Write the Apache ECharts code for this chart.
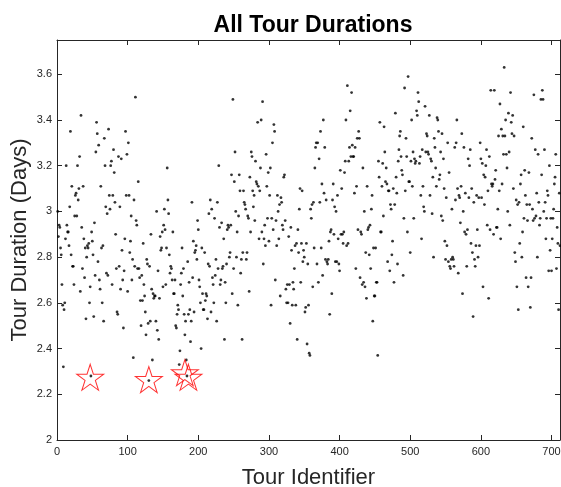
<!DOCTYPE html>
<html>
<head>
<meta charset="utf-8">
<title>All Tour Durations</title>
<script src="https://cdn.jsdelivr.net/npm/echarts@6/dist/echarts.min.js"></script>
<style>
  html, body { margin: 0; padding: 0; background: #fff; }
  #chart { width: 561px; height: 487px; }
</style>
</head>
<body>
<div id="chart"></div>
<script>
// duration of every tour (days), tour id = position in the list (starting at 1)
const tourDurations = [
  3.00, 2.89, 2.94, 2.93, 2.84, 2.81, 2.68, 2.59, 2.32, 2.57, 2.60, 2.88,
  3.20, 2.94, 2.91, 2.91, 2.85, 3.02, 3.35, 2.81, 3.11, 2.76, 2.76, 2.68, 2.98, 3.07, 3.08, 2.98, 3.20, 3.05, 3.10, 3.24, 2.65, 3.42,
  2.93, 2.75, 3.11, 2.88, 2.71, 2.84, 2.53, 2.80, 2.85, 2.84, 2.86, 2.60, 2.67, 2.28, 2.91, 2.87, 2.81, 2.54, 2.95, 2.72,
  3.26, 3.39, 3.34, 2.78, 3.29, 2.70, 2.66, 3.11, 2.84, 2.60, 2.85, 2.52, 3.32,
  3.20, 3.02, 2.73, 2.99, 2.72, 3.36, 3.07, 3.01, 3.20, 3.22, 2.68, 3.07, 3.27, 3.17, 3.04, 2.90, 2.75, 2.56, 2.55, 3.24, 2.76, 3.02, 2.66,

  3.23, 2.83, 2.70, 2.49, 2.74, 2.88, 3.35, 3.07, 3.25, 2.65,
  3.30, 3.07, 2.82, 2.87, 2.98, 2.70, 2.79, 2.36, 3.05, 2.76,
  3.50, 2.96, 2.94, 2.75, 3.13, 2.75, 2.71, 2.61, 2.50, 2.72,
  2.61, 2.86, 2.68, 2.63, 2.56, 2.46, 2.79, 2.77, 2.51, 2.26,
  2.76, 2.52, 2.90, 2.66, 2.35, 2.64, 2.62, 2.63, 2.63, 2.52,
  3.00, 2.48, 2.74, 2.44, 2.62, 2.89, 2.83, 2.84, 2.91, 2.67,
  2.94, 3.01, 2.92, 2.68, 2.84, 3.19, 3.05, 2.99, 2.81, 2.73,
  2.76, 2.75, 2.70, 2.91, 2.64, 2.64, 2.70, 2.50, 2.49, 2.55,
  2.59, 2.57, 2.33, 2.39, 2.68, 2.73, 2.84, 2.63, 2.75, 2.55,

  2.46, 2.52, 2.35, 2.28, 2.78, 2.55, 2.69, 2.57, 2.43, 2.52,
  3.04, 2.71, 2.87, 2.56, 2.82, 2.83, 2.85, 2.79, 2.96, 2.92,
  2.70, 2.67, 2.60, 2.40, 2.84, 2.64, 2.57, 2.57, 2.82, 2.61,
  2.64, 2.63, 2.53, 2.77, 2.99, 2.76, 3.05, 2.56, 3.01, 2.71,
  2.68, 2.60, 2.97, 2.72, 2.79, 2.52, 3.04, 2.75, 3.20, 2.93,
  2.68, 2.70, 2.95, 2.75, 2.76, 2.88, 2.44, 2.69, 2.60, 2.77,
  2.92, 2.94, 2.93, 2.80, 2.82, 2.94, 3.16, 2.64, 3.49, 2.75,
  3.13, 3.26, 3.00, 2.80, 2.91, 2.59, 2.98, 3.16, 3.09, 2.73,
  2.79, 2.44, 2.82, 3.09, 3.04, 3.03, 3.01,

  2.79, 2.82, 2.98, 2.97, 2.65, 3.15, 2.91, 3.26, 3.24, 3.09,
  3.02, 3.07, 2.96, 3.22, 3.13, 3.12, 3.39, 3.11, 2.88, 3.09,
  3.19, 3.40, 2.91, 3.48, 2.77, 2.88, 2.94, 2.85, 3.25, 3.11,
  2.97, 3.17, 2.87, 3.07, 3.19, 2.59, 2.97, 3.30, 2.92, 3.38,
  3.35, 2.70, 2.96, 2.85, 3.07, 3.00, 2.88, 3.03, 2.63, 3.06,
  3.04, 2.94, 2.92, 3.15, 3.16, 2.96, 2.66, 2.60, 2.68, 2.60,
  2.89, 2.68, 2.51, 2.93, 2.83, 2.59, 2.69, 2.66, 2.75, 2.85,
  2.59, 2.86, 2.44, 2.92, 2.82, 3.01, 3.10, 2.69, 2.86, 3.09,
  2.78, 2.83, 2.80, 2.56, 2.58, 2.86, 2.42, 2.77, 2.59,

  2.38, 2.37, 3.01, 2.97, 3.03, 2.67, 3.04, 2.84, 3.19, 3.28,
  3.30, 2.77, 3.30, 2.69, 3.23, 3.04, 3.35, 2.84, 3.12, 2.72,
  3.40, 3.08, 3.28, 2.79, 3.05, 2.78, 2.77, 2.79, 2.87, 2.55,
  2.91, 2.92, 2.64, 3.05, 3.12, 2.90, 3.02, 2.78, 3.00, 2.78,
  3.07, 2.88, 2.77, 2.74, 3.18, 2.90, 3.10, 2.90, 2.86, 2.91,
  3.17, 3.22, 3.40, 2.85, 3.55, 2.86, 3.22, 3.28, 3.44, 3.24,
  3.52, 3.29, 3.24, 3.24, 3.08, 3.28, 2.75, 3.11, 3.32, 2.92,
  3.35, 3.32, 2.71, 2.91, 2.90, 2.68, 3.19, 2.69, 3.00, 2.67,
  2.82, 2.62, 3.11, 2.92, 2.93, 2.81, 2.94, 2.75, 3.01,

  3.07, 2.52, 2.84, 2.63, 2.63, 2.84, 2.69, 2.69, 2.37, 3.22,
  3.15, 3.39, 2.91, 2.91, 3.11, 3.21, 2.98, 3.37, 3.26, 3.13,
  3.19, 3.12, 2.78, 3.09, 3.09, 2.74, 3.03, 3.01, 2.81, 2.87,
  3.10, 2.69, 3.03, 3.43, 3.15, 3.08, 2.77, 3.22, 3.27, 3.33,
  3.35, 3.24, 3.18, 3.16, 2.72, 2.97, 3.54, 3.09, 3.32, 3.24,
  2.91, 3.59, 3.13, 3.13, 2.82, 3.22, 3.40, 3.11, 3.26, 2.97,
  3.23, 3.21, 3.22, 3.44, 3.42, 3.52, 3.48, 3.21, 3.24, 3.07,
  2.88, 3.27, 3.11, 3.02, 3.00, 3.46, 3.26, 3.34, 3.33, 3.26,
  3.25, 3.42, 3.07, 3.23, 3.22, 2.99, 3.15, 2.80, 3.32, 3.28,
  3.19,

  3.11, 3.41, 3.40, 3.35, 3.14, 3.16, 3.26, 2.98, 3.34, 2.96,
  3.23, 3.10, 2.87, 2.79, 3.06, 2.85, 3.30, 2.78, 3.17, 2.76,
  2.75, 2.79, 3.01, 2.80, 2.79, 2.76, 3.28, 3.05, 3.30, 3.40,
  3.10, 2.73, 3.07, 3.06, 2.95, 3.11, 3.34, 2.64, 3.00, 3.28,
  2.91, 3.08, 2.90, 2.76, 2.92, 3.23, 3.06, 3.20, 3.27, 2.86,
  3.10, 2.82, 2.54, 3.04, 2.79, 2.76, 2.85, 3.07, 2.92, 2.80,
  3.06, 2.85, 3.30, 3.23, 3.06, 3.21, 2.67, 3.16, 3.03, 3.15,
  3.20, 3.27, 2.94, 3.09, 2.62, 3.24, 2.92, 3.53, 3.12, 3.11,
  3.12, 2.90, 3.53, 3.14, 3.18, 2.93, 2.93, 3.01, 3.33,

  3.09, 3.47, 2.88, 3.36, 3.12, 3.33, 3.25, 3.63, 3.33, 3.40,
  3.25, 3.19, 3.00, 3.43, 3.26, 2.94, 3.52, 3.39, 3.34, 3.42,
  3.10, 3.33, 2.82, 2.78, 3.05, 2.67, 3.03, 2.57, 3.04, 2.86,
  3.12, 3.16, 2.80, 2.91, 3.37, 2.97, 3.18, 3.07, 2.71, 3.03,
  2.96, 2.67, 3.17, 3.03, 2.58, 2.71, 3.32, 3.01, 2.96, 3.51,
  2.97, 3.27, 2.98, 3.08, 2.80, 3.25, 3.04, 2.94, 2.97, 3.49,
  3.16, 3.53, 3.49, 3.00, 3.27, 3.04, 2.88, 2.97, 3.09, 3.07,
  2.74, 3.20, 2.83, 2.97, 2.74, 2.88, 2.97, 3.01, 3.12, 3.15,
  3.25, 2.75, 2.93, 2.86, 2.57, 3.08, 2.85
]

// highlighted tours (red stars)
const starTourIds = [47, 130, 181, 186]
const starDurations = [2.27, 2.26, 2.29, 2.27]

const xMin = 0, xMax = 712, xStep = 100
const yMin = 2, yMax = 3.75, yStep = 0.2

const axisColor = '#262626'
const fontFamily = '"Liberation Sans", Arial, Helvetica, sans-serif'

// 5-pointed star outline, like matlab's pentagram marker
const starPath = 'path://M0,-10L2.245,-3.09L9.511,-3.09L3.633,1.18L5.878,8.09L0,3.82L-5.878,8.09L-3.633,1.18L-9.511,-3.09L-2.245,-3.09Z'

const chart = echarts.init(document.getElementById('chart'))

function boxAxis(position, isX, showLabels) {
  return {
    type: 'value',
    position: position,
    min: isX ? xMin : yMin,
    max: isX ? xMax : yMax,
    interval: isX ? xStep : yStep,
    splitLine: { show: false },
    axisLine: { show: true, onZero: false, lineStyle: { color: axisColor, width: 1 } },
    axisTick: { show: true, inside: true, length: 5, lineStyle: { color: axisColor } },
    axisLabel: {
      show: showLabels,
      color: axisColor,
      fontSize: 11,
      fontFamily: fontFamily,
      margin: isX ? 6 : 5,
      showMaxLabel: false
    }
  }
}

const xBottom = boxAxis('bottom', true, true)
xBottom.name = 'Tour Identifier'
xBottom.nameLocation = 'middle'
xBottom.nameGap = 27
xBottom.nameMoveOverlap = false
xBottom.nameTextStyle = { color: axisColor, fontSize: 22, fontFamily: fontFamily }

const yLeft = boxAxis('left', false, true)
yLeft.name = 'Tour Duration (Days)'
yLeft.nameLocation = 'middle'
yLeft.nameGap = 26
yLeft.nameMoveOverlap = false
yLeft.nameTextStyle = { color: axisColor, fontSize: 22, fontFamily: fontFamily }

const option = {
  animation: false,
  backgroundColor: '#fff',
  title: {
    text: 'All Tour Durations',
    left: 308,
    top: 9,
    textAlign: 'center',
    textStyle: { color: '#000', fontSize: 23, fontWeight: 'bold', fontFamily: fontFamily }
  },
  grid: { left: 57, right: 1, top: 40, bottom: 47, containLabel: false, outerBoundsMode: 'none' },
  xAxis: [xBottom, boxAxis('top', true, false)],
  yAxis: [yLeft, boxAxis('right', false, false)],
  series: [
    {
      type: 'scatter',
      xAxisIndex: 0,
      yAxisIndex: 0,
      symbol: 'circle',
      symbolSize: 2.8,
      itemStyle: { color: '#000' },
      data: tourDurations.map((d, i) => [i + 1, d])
    },
    {
      type: 'scatter',
      xAxisIndex: 0,
      yAxisIndex: 0,
      symbol: starPath,
      symbolSize: [27, 26],
      symbolOffset: [0, -1],
      itemStyle: { color: 'rgba(0,0,0,0)', borderColor: '#ff0000', borderWidth: 1 },
      z: 3,
      data: starTourIds.map((id, i) => [id, starDurations[i]])
    }
  ]
}

chart.setOption(option)
</script>
</body>
</html>
